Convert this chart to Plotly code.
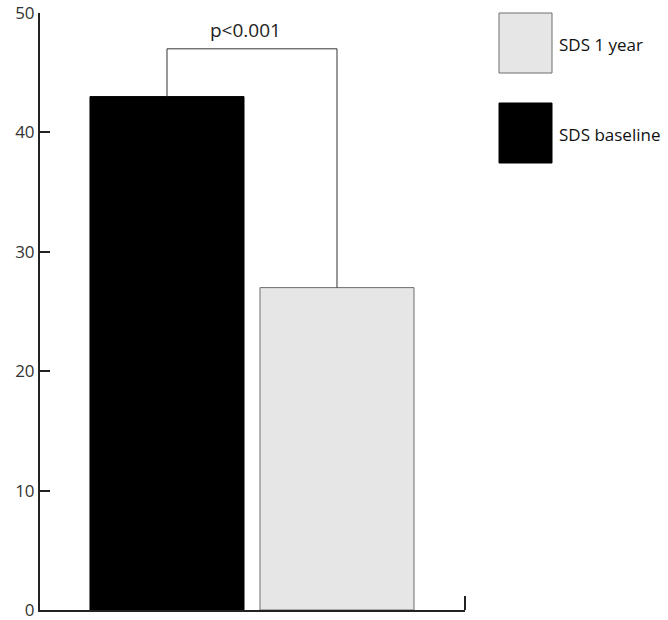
import plotly.graph_objects as go

categories = ["SDS baseline", "SDS 1 year"]
values = [43, 27]
fill_colors = ["#000000", "#e6e6e6"]
line_colors = ["#000000", "#6e6e6e"]
y_ticks = [0, 10, 20, 30, 40, 50]
p_label = "p<0.001"
bracket_top = 47

W, H = 668, 620
ml, mr, mt, mb = 40, 203, 13, 10
plot_h = H - mt - mb

fig = go.Figure()
fig.add_trace(go.Bar(
    x=categories, y=values, width=0.906,
    marker=dict(color=fill_colors, line=dict(color=line_colors, width=1)),
    showlegend=False,
))

# significance bracket
fig.add_shape(type="path",
              path=f"M 0,{values[0]} L 0,{bracket_top} L 1,{bracket_top} L 1,{values[1]}",
              line=dict(color="#333333", width=1), xref="x", yref="y")
fig.add_annotation(x=0.46, y=48.6, text=p_label, showarrow=False,
                   font=dict(family="Open Sans", size=19, color="#222222"),
                   xref="x", yref="y")

# right end tick on x axis
fig.add_shape(type="line", xref="paper", yref="paper", x0=1, x1=1,
              y0=0, y1=14 / plot_h, line=dict(color="#222222", width=2))

# legend (reversed order, drawn in pixel space)
pw = W - ml - mr
def px_x(p):
    return (p - ml) / pw
def px_y(p):
    return (H - mb - p) / plot_h

for i, idx in enumerate([1, 0]):
    top = 13 + i * 90
    fig.add_shape(type="rect", xref="paper", yref="paper",
                  x0=px_x(499), x1=px_x(552), y0=px_y(top + 60), y1=px_y(top),
                  fillcolor=fill_colors[idx], line=dict(color=line_colors[idx], width=1))
    fig.add_annotation(xref="paper", yref="paper", x=px_x(557), y=px_y(top + 31),
                       text=categories[idx], showarrow=False, xanchor="left",
                       yanchor="middle",
                       font=dict(family="Open Sans", size=17, color="#111111"))

fig.update_layout(
    width=W, height=H,
    margin=dict(l=ml, r=mr, t=mt, b=mb),
    plot_bgcolor="white", paper_bgcolor="white",
    xaxis=dict(range=[-0.747, 1.753], showticklabels=False, ticks="",
               showline=True, linecolor="#222222", linewidth=2,
               showgrid=False, zeroline=False, fixedrange=True),
    yaxis=dict(range=[0, 50], tickvals=y_ticks, ticks="inside", ticklen=10,
               tickwidth=2, tickcolor="#222222", showline=True,
               linecolor="#222222", linewidth=2, showgrid=False, zeroline=False,
               automargin=False, ticklabeloverflow="allow",
               tickfont=dict(family="Open Sans", size=17, color="#333333")),
    showlegend=False,
)

fig.write_html("out.html", config={"displayModeBar": False})

with open("out.html", "r", encoding="utf-8") as f:
    html = f.read()
html = html.replace("<head>", "<head><style>html,body{margin:0;padding:0;overflow:hidden;}</style>", 1)
with open("out.html", "w", encoding="utf-8") as f:
    f.write(html)
